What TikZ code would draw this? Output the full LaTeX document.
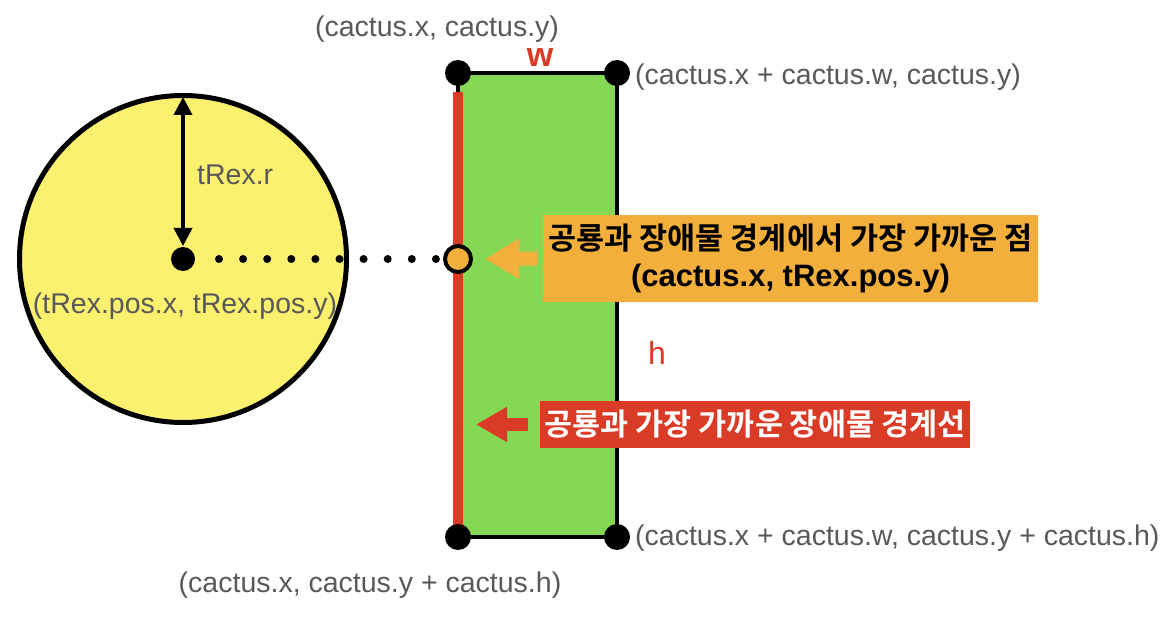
\documentclass[tikz,border=0pt]{standalone}
\usepackage{fontspec}
\setmainfont{Liberation Sans}
\newfontfamily\kr{Noto Sans CJK KR}[BoldFont={Noto Sans CJK KR Bold}]
\usetikzlibrary{arrows.meta}
\definecolor{tyellow}{HTML}{FCF06F}
\definecolor{cgreen}{HTML}{84D854}
\definecolor{cred}{HTML}{DA3B27}
\definecolor{corange}{HTML}{F2AF3C}
\definecolor{lgray}{HTML}{595959}
\begin{document}
\begin{tikzpicture}[x=1pt,y=-1pt,
  lbl/.style={text=lgray,font=\fontsize{28.5}{32}\selectfont,inner sep=0pt},
  cornerdot/.style={circle,fill=black,minimum size=26pt,inner sep=0pt},
]
\useasboundingbox (0,0) rectangle (1173,620);
% T-Rex circle
\node[circle,draw=black,line width=5pt,fill=tyellow,minimum size=327pt,inner sep=0pt] (trex) at (183,259) {};
\node[circle,fill=black,minimum size=24pt,inner sep=0pt] (center) at (183,259) {};
\coordinate (ctop) at (183,97);
\draw[line width=3.5pt,{Triangle[length=18pt,width=18pt]}-{Triangle[length=18pt,width=18pt]}] (ctop) -- ([yshift=13pt]center.center);
\node[lbl,anchor=west] (rlab) at (197,175) {tRex.r};
\node[lbl] (poslab) at (185,306) {(tRex.pos.x, tRex.pos.y)};
% cactus rectangle
\coordinate (tl) at (458,73);
\coordinate (tr) at (617,73);
\coordinate (bl) at (458,537);
\coordinate (br) at (617,537);
\draw[line width=4pt,fill=cgreen] (tl) rectangle (br);
\draw[line width=10pt,cred] ([yshift=-19pt]tl) -- ([yshift=12pt]bl);
\node[cornerdot] (dtl) at (tl) {};
\node[cornerdot] (dtr) at (tr) {};
\node[cornerdot] (dbl) at (bl) {};
\node[cornerdot] (dbr) at (br) {};
% closest point
\node[circle,draw=black,line width=4pt,fill=corange,minimum size=26pt,inner sep=0pt] (closest) at (458,259) {};
\draw[line width=8pt,line cap=round,dash pattern=on 0pt off 24.1pt,shorten <=36pt,shorten >=22pt] (center.center) -- (closest.center);
% labels
\node[lbl] (tllab) at (437,29) {(cactus.x, cactus.y)};
\node[lbl,anchor=west] (trlab) at (635,77) {(cactus.x + cactus.w, cactus.y)};
\node[lbl,anchor=west] (brlab) at (635,538) {(cactus.x + cactus.w, cactus.y + cactus.h)};
\node[lbl] (bllab) at (370,585) {(cactus.x, cactus.y + cactus.h)};
\node[text=cred,font=\fontsize{34}{36}\selectfont\bfseries,inner sep=0pt] (wlab) at (540,58) {w};
\node[text=cred,font=\fontsize{32}{34}\selectfont,inner sep=0pt] (hlab) at (657,353) {h};
% orange box
\node[fill=corange,minimum width=495pt,minimum height=87pt,inner sep=0pt,align=center,
  font=\fontsize{30.5}{37}\selectfont\bfseries] (obox) at (790.5,258.5)
  {{\kr 공룡과 장애물 경계에서 가장 가까운 점}\\{\fontsize{31}{37}\selectfont(cactus.x, tRex.pos.y)}};
\draw[corange,line width=14pt,-{Triangle[length=34pt,width=38pt]}] ([xshift=-6pt]obox.west) -- ([xshift=27pt]closest.center);
% red box
\node[fill=cred,text=white,minimum width=430pt,minimum height=47pt,inner sep=0pt,
  font=\fontsize{30.5}{34}\selectfont\bfseries\kr] (rbox) at (755,424.5)
  {공룡과 가장 가까운 장애물 경계선};
\coordinate (redtip) at (476,424.5);
\draw[line width=13pt,cred,-{Triangle[length=31pt,width=33pt]}] ([xshift=-12pt]rbox.west) -- (redtip);
\end{tikzpicture}
\end{document}
